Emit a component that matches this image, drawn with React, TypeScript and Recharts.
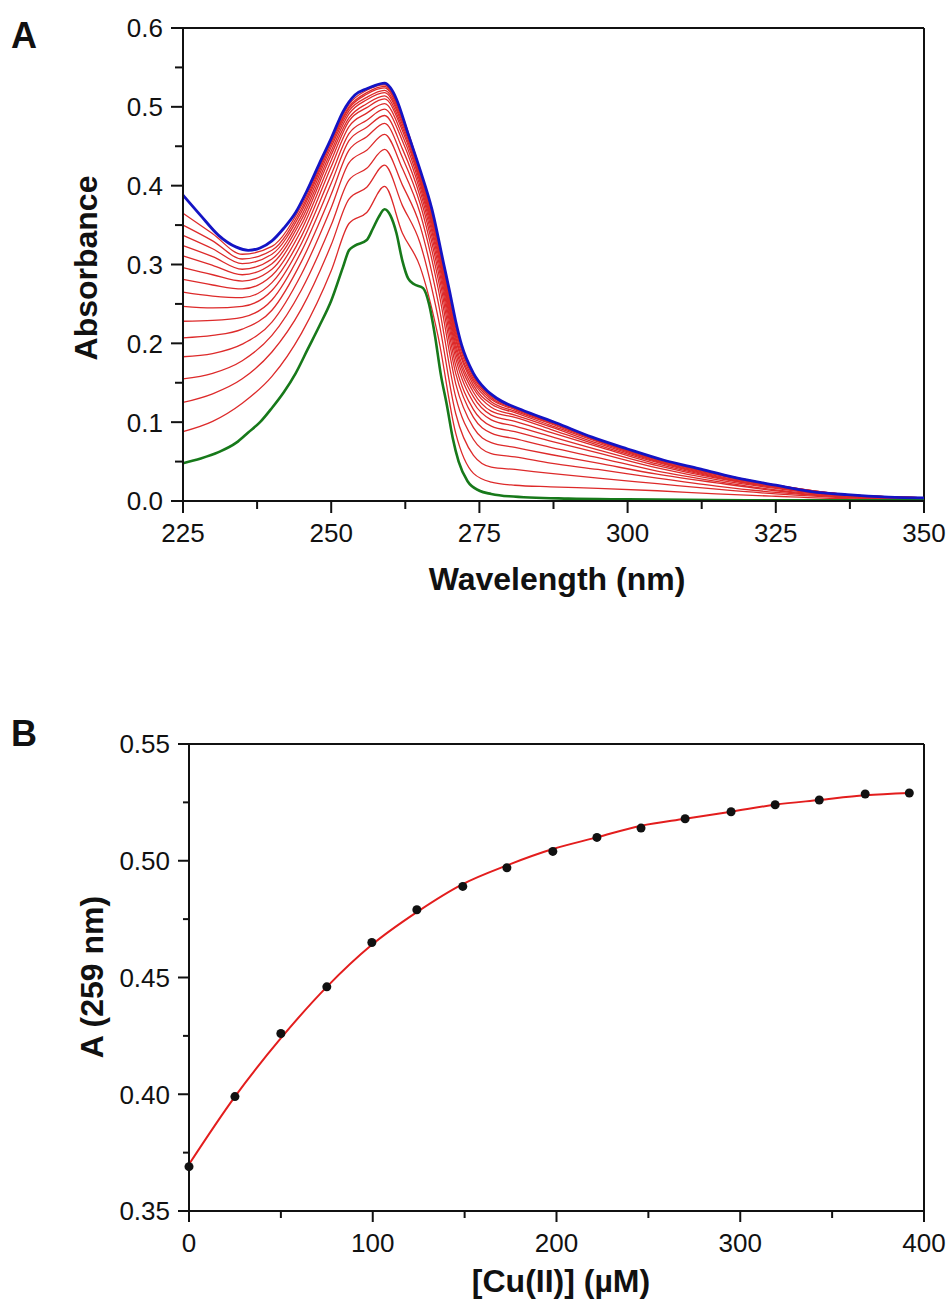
import React from 'react';
import { LineChart, Line, XAxis, YAxis, ReferenceLine } from 'recharts';

// Panel A: UV spectra during Cu(II) titration
const redWl = [225, 230, 235, 240, 245, 250, 253, 256, 259, 262, 265, 268, 271, 274, 277, 281, 287, 295, 305, 315, 325, 337, 350];
const red01 = [0.088, 0.101, 0.124, 0.158, 0.213, 0.292, 0.352, 0.366, 0.399, 0.340, 0.297, 0.210, 0.086, 0.035, 0.024, 0.020, 0.018, 0.016, 0.013, 0.009, 0.006, 0.003, 0.002];
const red02 = [0.125, 0.136, 0.155, 0.189, 0.244, 0.325, 0.383, 0.398, 0.426, 0.375, 0.327, 0.234, 0.111, 0.058, 0.043, 0.040, 0.035, 0.029, 0.022, 0.015, 0.009, 0.004, 0.002];
const red03 = [0.155, 0.162, 0.178, 0.210, 0.268, 0.350, 0.407, 0.422, 0.446, 0.401, 0.349, 0.254, 0.132, 0.078, 0.060, 0.056, 0.048, 0.040, 0.029, 0.019, 0.011, 0.005, 0.002];
const red04 = [0.183, 0.187, 0.199, 0.227, 0.288, 0.372, 0.429, 0.445, 0.465, 0.422, 0.365, 0.271, 0.149, 0.093, 0.074, 0.068, 0.059, 0.048, 0.034, 0.023, 0.013, 0.005, 0.003];
const red05 = [0.207, 0.210, 0.218, 0.242, 0.304, 0.389, 0.445, 0.462, 0.479, 0.436, 0.377, 0.283, 0.162, 0.106, 0.086, 0.079, 0.068, 0.055, 0.038, 0.025, 0.014, 0.006, 0.003];
const red06 = [0.228, 0.229, 0.233, 0.255, 0.317, 0.403, 0.457, 0.474, 0.489, 0.447, 0.386, 0.293, 0.172, 0.116, 0.095, 0.088, 0.076, 0.061, 0.042, 0.027, 0.016, 0.006, 0.003];
const red07 = [0.247, 0.245, 0.247, 0.267, 0.327, 0.414, 0.466, 0.483, 0.497, 0.457, 0.393, 0.301, 0.181, 0.125, 0.103, 0.095, 0.082, 0.065, 0.045, 0.029, 0.017, 0.007, 0.003];
const red08 = [0.265, 0.260, 0.258, 0.277, 0.336, 0.424, 0.475, 0.492, 0.504, 0.464, 0.399, 0.308, 0.188, 0.132, 0.109, 0.101, 0.087, 0.069, 0.047, 0.030, 0.017, 0.007, 0.003];
const red09 = [0.281, 0.274, 0.269, 0.286, 0.344, 0.432, 0.482, 0.499, 0.510, 0.470, 0.404, 0.314, 0.194, 0.138, 0.114, 0.106, 0.091, 0.071, 0.049, 0.031, 0.018, 0.007, 0.004];
const red10 = [0.296, 0.287, 0.279, 0.294, 0.351, 0.439, 0.486, 0.504, 0.514, 0.474, 0.407, 0.319, 0.199, 0.143, 0.119, 0.109, 0.094, 0.073, 0.050, 0.032, 0.019, 0.007, 0.004];
const red11 = [0.311, 0.299, 0.287, 0.301, 0.357, 0.444, 0.491, 0.509, 0.518, 0.478, 0.410, 0.323, 0.204, 0.147, 0.123, 0.112, 0.096, 0.075, 0.051, 0.033, 0.019, 0.008, 0.004];
const red12 = [0.324, 0.310, 0.294, 0.307, 0.362, 0.449, 0.495, 0.512, 0.521, 0.481, 0.413, 0.327, 0.208, 0.151, 0.126, 0.114, 0.098, 0.076, 0.052, 0.034, 0.019, 0.008, 0.004];
const red13 = [0.337, 0.320, 0.301, 0.313, 0.367, 0.453, 0.498, 0.516, 0.524, 0.484, 0.415, 0.329, 0.212, 0.154, 0.129, 0.116, 0.099, 0.077, 0.053, 0.034, 0.020, 0.008, 0.004];
const red14 = [0.350, 0.330, 0.307, 0.318, 0.371, 0.456, 0.500, 0.518, 0.526, 0.486, 0.417, 0.332, 0.216, 0.157, 0.131, 0.117, 0.100, 0.078, 0.053, 0.035, 0.020, 0.008, 0.004];
const red15 = [0.365, 0.339, 0.313, 0.323, 0.375, 0.458, 0.503, 0.521, 0.528, 0.488, 0.419, 0.334, 0.220, 0.159, 0.133, 0.118, 0.101, 0.078, 0.054, 0.035, 0.020, 0.008, 0.004];
const reds = [red01, red02, red03, red04, red05, red06, red07, red08, red09, red10, red11, red12, red13, red14, red15];

const greenWl = [225, 228, 231, 234, 236, 238, 240, 242, 244, 246, 248, 250, 252, 253, 254, 256, 257, 258, 259, 260, 261, 262, 263, 264, 265.5, 266.5, 267.5, 268.5, 269.5, 270.5, 271.5, 273, 275, 277, 280, 290, 300, 320, 350];
const greenAbs = [0.048, 0.054, 0.062, 0.074, 0.087, 0.100, 0.118, 0.138, 0.162, 0.192, 0.222, 0.254, 0.297, 0.318, 0.324, 0.331, 0.345, 0.360, 0.370, 0.362, 0.340, 0.305, 0.282, 0.275, 0.270, 0.250, 0.210, 0.160, 0.122, 0.080, 0.050, 0.025, 0.013, 0.009, 0.006, 0.003, 0.002, 0.001, 0.001];

const blueWl = [225, 228, 231, 234, 236, 238, 240, 242, 244, 246, 248, 250, 252, 254, 256, 257, 259, 260, 261, 263, 265, 267, 269, 270, 271, 272, 274, 276, 278, 282, 288, 294, 300, 306, 312, 318, 325, 331, 337, 344, 350];
const blueAbs = [0.388, 0.362, 0.337, 0.322, 0.318, 0.321, 0.330, 0.346, 0.366, 0.395, 0.428, 0.460, 0.494, 0.515, 0.523, 0.526, 0.530, 0.524, 0.510, 0.465, 0.420, 0.370, 0.300, 0.265, 0.228, 0.198, 0.162, 0.142, 0.130, 0.116, 0.099, 0.081, 0.066, 0.052, 0.041, 0.030, 0.020, 0.012, 0.008, 0.005, 0.004];

const specTicksX = [225, 237.5, 250, 262.5, 275, 287.5, 300, 312.5, 325, 337.5, 350];
const specMajorX = [225, 250, 275, 300, 325, 350];
const specTicksY = [0, 0.05, 0.1, 0.15, 0.2, 0.25, 0.3, 0.35, 0.4, 0.45, 0.5, 0.55, 0.6];
const specMajorY = [0, 0.1, 0.2, 0.3, 0.4, 0.5, 0.6];

// Panel B: absorbance at 259 nm vs [Cu(II)]
const cuConc = [0, 25, 50, 75, 99.5, 124, 149, 173, 198, 222, 246, 270, 295, 319, 343, 368, 392];
const a259 = [0.369, 0.399, 0.426, 0.446, 0.465, 0.479, 0.489, 0.497, 0.504, 0.510, 0.514, 0.518, 0.521, 0.524, 0.526, 0.5286, 0.529];
const a259Fit = [0.370, 0.399, 0.424, 0.446, 0.464, 0.478, 0.490, 0.498, 0.505, 0.510, 0.515, 0.518, 0.521, 0.524, 0.526, 0.528, 0.529];

const titTicksX = [0, 50, 100, 150, 200, 250, 300, 350, 400];
const titMajorX = [0, 100, 200, 300, 400];
const titTicksY = [0.35, 0.375, 0.4, 0.425, 0.45, 0.475, 0.5, 0.525, 0.55];
const titMajorY = [0.35, 0.4, 0.45, 0.5, 0.55];

const ink = '#111';
const font = "'Liberation Sans', Arial, Helvetica, sans-serif";

const toRows = (wl: number[], vals: number[]) => wl.map((w, i) => ({ wl: w, v: vals[i] }));
const isIn = (v: number, list: number[]) => list.some((m) => Math.abs(m - v) < 1e-6);

const leftTick = (majors: number[], digits: number, majorLen: number, minorLen: number, gap: number) =>
  (props: any) => {
    const { x, y, payload } = props;
    const v = payload.value as number;
    const major = isIn(v, majors);
    const ax = x + majorLen + gap;
    return (
      <g>
        <line x1={ax - (major ? majorLen : minorLen)} x2={ax} y1={y} y2={y} stroke={ink} strokeWidth={2} />
        {major && (
          <text x={x} y={y} dy="0.36em" textAnchor="end" fontSize={26} fill={ink} fontFamily={font}>
            {v.toFixed(digits)}
          </text>
        )}
      </g>
    );
  };

const bottomTick = (majors: number[], majorLen: number, minorLen: number, gap: number) =>
  (props: any) => {
    const { x, y, payload } = props;
    const v = payload.value as number;
    const major = isIn(v, majors);
    const ay = y - majorLen - gap;
    return (
      <g>
        <line x1={x} x2={x} y1={ay} y2={ay + (major ? majorLen : minorLen)} stroke={ink} strokeWidth={2} />
        {major && (
          <text x={x} y={y} dy="0.72em" textAnchor="middle" fontSize={26} fill={ink} fontFamily={font}>
            {String(v)}
          </text>
        )}
      </g>
    );
  };

const SpectraChart = () => (
  <LineChart width={951} height={570} margin={{ top: 28, right: 27, left: 123, bottom: 39 }}>
    <XAxis
      type="number"
      dataKey="wl"
      domain={[225, 350]}
      ticks={specTicksX}
      interval={0}
      tickLine={false}
      tickSize={12}
      tickMargin={10}
      axisLine={{ stroke: ink, strokeWidth: 2 }}
      tick={bottomTick(specMajorX, 12, 8, 10)}
    />
    <YAxis
      type="number"
      domain={[0, 0.6]}
      ticks={specTicksY}
      interval={0}
      tickLine={false}
      tickSize={12}
      tickMargin={8}
      axisLine={{ stroke: ink, strokeWidth: 2 }}
      tick={leftTick(specMajorY, 1, 12, 8, 8)}
    />
    <ReferenceLine y={0.6} stroke={ink} strokeWidth={2} />
    <ReferenceLine x={350} stroke={ink} strokeWidth={2} />
    {reds.map((vals, i) => (
      <Line
        key={i}
        data={toRows(redWl, vals)}
        dataKey="v"
        type="monotone"
        stroke="#dd2a2a"
        strokeWidth={1.3}
        dot={false}
        isAnimationActive={false}
      />
    ))}
    <Line data={toRows(greenWl, greenAbs)} dataKey="v" type="monotone" stroke="#17791a" strokeWidth={2.6} dot={false} isAnimationActive={false} />
    <Line data={toRows(blueWl, blueAbs)} dataKey="v" type="monotone" stroke="#1414c4" strokeWidth={2.8} dot={false} isAnimationActive={false} />
  </LineChart>
);

const titRows = cuConc.map((c, i) => ({ c, a: a259[i], fit: a259Fit[i] }));

const TitrationChart = () => (
  <LineChart width={951} height={600} data={titRows} margin={{ top: 54, right: 27, left: 129, bottom: 49 }}>
    <XAxis
      type="number"
      dataKey="c"
      domain={[0, 400]}
      ticks={titTicksX}
      interval={0}
      tickLine={false}
      tickSize={11}
      tickMargin={11}
      axisLine={{ stroke: ink, strokeWidth: 2 }}
      tick={bottomTick(titMajorX, 11, 7, 11)}
    />
    <YAxis
      type="number"
      domain={[0.35, 0.55]}
      ticks={titTicksY}
      interval={0}
      tickLine={false}
      tickSize={11}
      tickMargin={8}
      axisLine={{ stroke: ink, strokeWidth: 2 }}
      tick={leftTick(titMajorY, 2, 11, 6, 8)}
    />
    <ReferenceLine y={0.55} stroke={ink} strokeWidth={2} />
    <ReferenceLine x={400} stroke={ink} strokeWidth={2} />
    <Line dataKey="a" stroke="none" dot={{ r: 4.5, fill: ink, stroke: ink, strokeWidth: 0 }} isAnimationActive={false} />
    <Line dataKey="fit" type="monotone" stroke="#e31d1d" strokeWidth={2} dot={false} isAnimationActive={false} />
  </LineChart>
);

export default function App() {
  return (
    <div style={{ position: 'absolute', left: 0, top: 0, width: 951, height: 1312, background: '#fff', fontFamily: font }}>
      <div style={{ position: 'absolute', left: 0, top: 0 }}>
        <SpectraChart />
      </div>
      <div style={{ position: 'absolute', left: 0, top: 690 }}>
        <TitrationChart />
      </div>
      <svg width={951} height={1312} style={{ position: 'absolute', left: 0, top: 0, pointerEvents: 'none' }}>
        <g fontFamily={font} fontWeight="bold" fill={ink}>
          <text x={11} y={48} fontSize={36}>A</text>
          <text x={11} y={746} fontSize={36}>B</text>
          <text x={86} y={268} fontSize={32} textAnchor="middle" dominantBaseline="central" transform="rotate(-90 86 268)">
            Absorbance
          </text>
          <text x={557} y={579} fontSize={32} textAnchor="middle" dominantBaseline="central">
            Wavelength (nm)
          </text>
          <text x={92} y={977} fontSize={32} textAnchor="middle" dominantBaseline="central" transform="rotate(-90 92 977)">
            A (259 nm)
          </text>
          <text x={561} y={1281} fontSize={32} textAnchor="middle" dominantBaseline="central">
            [Cu(II)] (µM)
          </text>
        </g>
      </svg>
    </div>
  );
}
